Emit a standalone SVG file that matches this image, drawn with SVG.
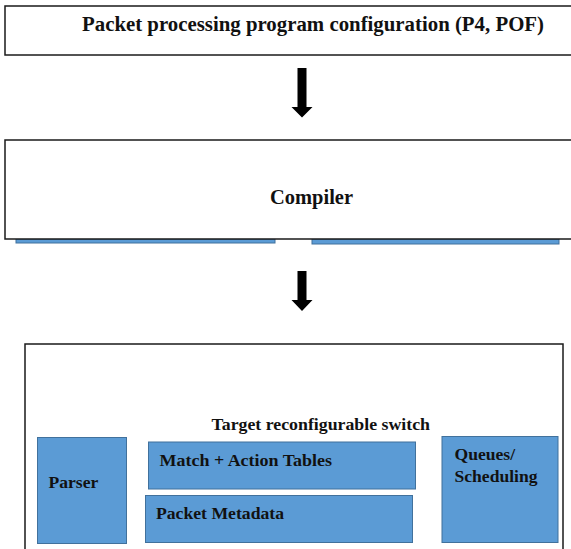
<svg xmlns="http://www.w3.org/2000/svg" width="571" height="549" viewBox="0 0 571 549">
  <style>
    .frame { fill: #ffffff; stroke: #1a1a1a; stroke-width: 1.5; }
    .block { fill: #5b9bd5; stroke: #41719c; stroke-width: 1; }
    text { font-family: 'Liberation Serif', 'DejaVu Serif', serif; font-weight: bold; fill: #111111; }
    .big { font-size: 20.5px; }
    .small { font-size: 17.6px; }
    .arrow { fill: #000000; }
  </style>
  <rect x="0" y="0" width="571" height="549" fill="#ffffff"/>

  <!-- program configuration -->
  <g id="config">
    <rect class="frame" x="5" y="6" width="580" height="49"/>
    <text class="big" x="82" y="31" textLength="462" lengthAdjust="spacingAndGlyphs">Packet processing program configuration (P4, POF)</text>
  </g>

  <!-- compiler -->
  <g id="compiler">
    <rect class="block" x="16" y="239" width="259" height="4"/>
    <rect class="block" x="312" y="239" width="247" height="5"/>
    <rect class="frame" x="5" y="140" width="580" height="99"/>
    <text class="big" x="270" y="204" textLength="83" lengthAdjust="spacingAndGlyphs">Compiler</text>
  </g>

  <!-- target switch -->
  <g id="switch">
    <rect class="frame" x="25" y="344" width="538" height="220"/>
    <text class="small" x="211.5" y="430" textLength="218.5" lengthAdjust="spacingAndGlyphs">Target reconfigurable switch</text>
  </g>

  <g id="parser">
    <rect class="block" x="37.5" y="437.5" width="89" height="106"/>
    <text class="small" x="48.5" y="488">Parser</text>
  </g>

  <g id="match-action">
    <rect class="block" x="148.5" y="442" width="267" height="47"/>
    <text class="small" x="159.5" y="466" textLength="172.5" lengthAdjust="spacingAndGlyphs">Match + Action Tables</text>
  </g>

  <g id="metadata">
    <rect class="block" x="145.5" y="495.5" width="267" height="47"/>
    <text class="small" x="156" y="519" textLength="128" lengthAdjust="spacingAndGlyphs">Packet Metadata</text>
  </g>

  <g id="queues">
    <rect class="block" x="442" y="436.5" width="116" height="106"/>
    <text class="small" x="454.5" y="460">Queues/</text>
    <text class="small" x="454.5" y="481.5" textLength="83" lengthAdjust="spacingAndGlyphs">Scheduling</text>
  </g>

  <!-- connectors -->
  <g id="connectors">
    <polygon class="arrow" points="297.5,68 306.5,68 306.5,107 312.5,107 302,117.5 291.5,107 297.5,107"/>
    <polygon class="arrow" points="297.5,271 306.5,271 306.5,300 312.5,300 302,311 291.5,300 297.5,300"/>
  </g>
</svg>
